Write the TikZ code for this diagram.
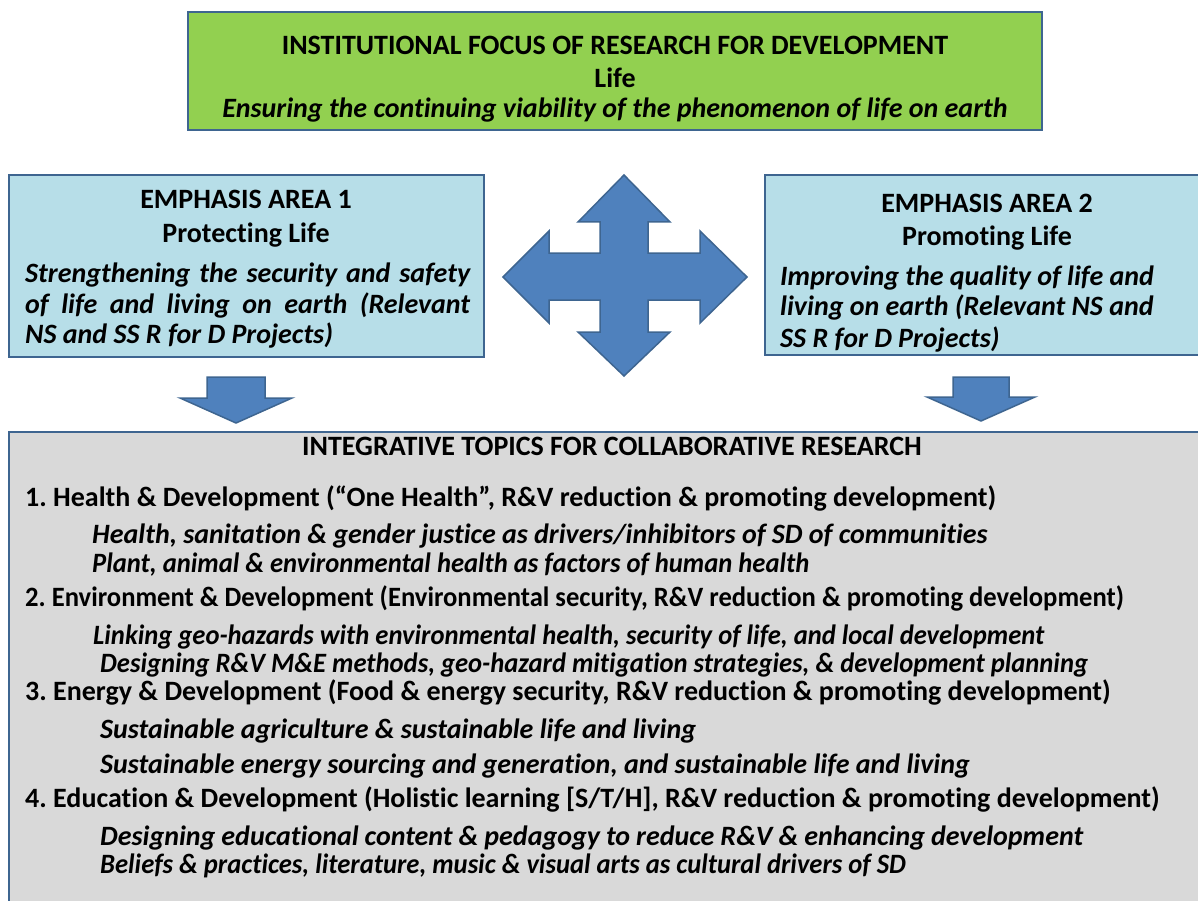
\documentclass[tikz,border=0pt]{standalone}
\usepackage{fontspec}
\setmainfont{Carlito}[Ligatures=NoCommon]
\usepackage{graphicx}
\usepackage{tikz}
\frenchspacing

\definecolor{focusgreen}{HTML}{92D050}
\definecolor{areablue}{HTML}{B7DEE8}
\definecolor{topicgrey}{HTML}{D9D9D9}
\definecolor{rimblue}{HTML}{3E6590}
\definecolor{arrowblue}{HTML}{4F81BD}

\newcommand{\squeeze}[1]{\scalebox{0.95}[1]{#1}}

\tikzset{
  panel/.style={draw=rimblue, line width=2.5pt, inner sep=0pt, outer sep=0pt},
  txt/.style={inner sep=0pt, anchor=base, font=\fontsize{28}{30.5}\selectfont\bfseries},
  itxt/.style={txt, font=\fontsize{28}{30.5}\selectfont\bfseries\itshape},
  blockarrow/.style={fill=arrowblue, draw=rimblue, line width=1.5pt, line join=miter}
}

\begin{document}
\begin{tikzpicture}[x=1pt,y=-1pt]
\useasboundingbox (0,0) rectangle (1198,901);
\clip (0,0) rectangle (1198,901);

\node[panel, fill=focusgreen, minimum width=854pt, minimum height=118pt] (focus) at (615,71) {};
\node[panel, fill=areablue, minimum width=475pt, minimum height=182pt] (area1) at (246.5,266) {};
\node[panel, fill=areablue, minimum width=445pt, minimum height=180pt] (area2) at (987.5,265) {};
\node[panel, fill=topicgrey, minimum width=1206pt, minimum height=483pt] (topics) at (612,673.5) {};

\draw[blockarrow] (624,175) -- (670,222) -- (648,222) -- (648,253) -- (700,253) -- (700,231)
  -- (747,277) -- (700,323) -- (700,300) -- (648,300) -- (648,332) -- (670,332) -- (624,376)
  -- (578,332) -- (600,332) -- (600,300) -- (549,300) -- (549,323) -- (503,277) -- (549,231)
  -- (549,253) -- (600,253) -- (600,222) -- (578,222) -- cycle;
\draw[blockarrow] (207,377) -- (265,377) -- (265,398) -- (292,398) -- (236,423) -- (180,398) -- (207,398) -- cycle;
\draw[blockarrow] (953,377) -- (1009,377) -- (1009,397) -- (1035,397) -- (981,421) -- (927,397) -- (953,397) -- cycle;

\node[txt] (f1) at (615,55) {INSTITUTIONAL FOCUS OF RESEARCH FOR DEVELOPMENT};
\node[txt] (f2) at (615,88) {Life};
\node[itxt] (f3) at (615,118) {Ensuring the continuing viability of the phenomenon of life on earth};

\node[txt] (a11) at (246,209) {EMPHASIS AREA 1};
\node[txt] (a12) at (246,243) {Protecting Life};
\node[itxt, anchor=north west, text width=445pt, align=justify] (a13) at (25,263)
  {Strengthening the security and safety\linebreak of life and living on earth (Relevant\linebreak NS and SS R for D Projects)};

\node[txt] (a21) at (987,213) {EMPHASIS AREA 2};
\node[txt] (a22) at (987,246) {Promoting Life};
\node[itxt, anchor=base west] (a23) at (780,285) {Improving the quality of life and};
\node[itxt, anchor=base west] (a24) at (780,315) {living on earth (Relevant NS and};
\node[itxt, anchor=base west] (a25) at (780,347) {SS R for D Projects)};

\node[txt] (t0) at (612,455) {INTEGRATIVE TOPICS FOR COLLABORATIVE RESEARCH};
\node[txt, anchor=base west] (t1) at (25,506) {1. Health \& Development (“One Health”, R\&V reduction \& promoting development)};
\node[itxt, anchor=base west] (t11) at (92,543) {Health, sanitation \& gender justice as drivers/inhibitors of SD of communities};
\node[itxt, anchor=base west] (t12) at (92,572) {\squeeze{Plant, animal \& environmental health as factors of human health}};
\node[txt, anchor=base west] (t2) at (25,606) {\squeeze{2. Environment \& Development (Environmental security, R\&V reduction \& promoting development)}};
\node[itxt, anchor=base west] (t21) at (93,644) {\squeeze{Linking geo-hazards with environmental health, security of life, and local development}};
\node[itxt, anchor=base west] (t22) at (100,672) {\squeeze{Designing R\&V M\&E methods, geo-hazard mitigation strategies, \& development planning}};
\node[txt, anchor=base west] (t3) at (25,700) {3. Energy \& Development (Food \& energy security, R\&V reduction \& promoting development)};
\node[itxt, anchor=base west] (t31) at (100,738) {Sustainable agriculture \& sustainable life and living};
\node[itxt, anchor=base west] (t32) at (100,773) {Sustainable energy sourcing and generation, and sustainable life and living};
\node[txt, anchor=base west] (t4) at (25,807) {4. Education \& Development (Holistic learning [S/T/H], R\&V reduction \& promoting development)};
\node[itxt, anchor=base west] (t41) at (100,845) {\makebox[983pt][s]{Designing educational content \& pedagogy to reduce R\&V \& enhancing development}};
\node[itxt, anchor=base west] (t42) at (100,873) {\squeeze{Beliefs \& practices, literature, music \& visual arts as cultural drivers of SD}};
\end{tikzpicture}
\end{document}
